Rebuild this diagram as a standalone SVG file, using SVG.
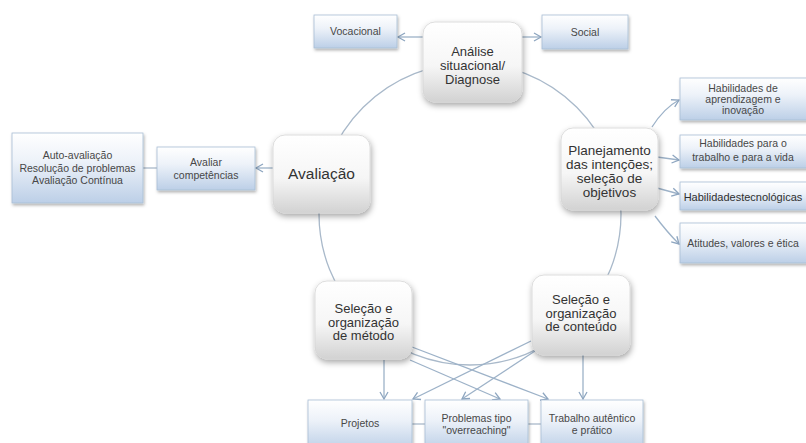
<svg xmlns="http://www.w3.org/2000/svg" width="806" height="443" viewBox="0 0 806 443">
<defs>
<linearGradient id="gNode" x1="0" y1="0" x2="0" y2="1">
<stop offset="0" stop-color="#ffffff"/>
<stop offset="0.55" stop-color="#f6f6f6"/>
<stop offset="1" stop-color="#d2d2d2"/>
</linearGradient>
<linearGradient id="gBox" x1="0" y1="0" x2="0" y2="1">
<stop offset="0" stop-color="#ffffff"/>
<stop offset="0.4" stop-color="#edf2f9"/>
<stop offset="1" stop-color="#bccfe7"/>
</linearGradient>
<filter id="shNode" x="-20%" y="-20%" width="150%" height="150%">
<feDropShadow dx="1" dy="3" stdDeviation="3" flood-color="#000" flood-opacity="0.35"/>
</filter>
<filter id="shBox" x="-20%" y="-20%" width="150%" height="150%">
<feDropShadow dx="1" dy="2" stdDeviation="1.5" flood-color="#000" flood-opacity="0.3"/>
</filter>
<marker id="arr" markerUnits="userSpaceOnUse" markerWidth="12" markerHeight="12" refX="8" refY="5" orient="auto">
<path d="M1,1 L8,5 L1,9" fill="none" stroke="#8ea6c0" stroke-width="1.3"/>
</marker>
<style>
.node{fill:url(#gNode);stroke:#d6d6d6;stroke-width:0.8;filter:url(#shNode)}
.box{fill:url(#gBox);stroke:#a9bdd5;stroke-width:0.8;filter:url(#shBox)}
.c{fill:none;stroke:#a9b9ca;stroke-width:1.3}
.a{fill:none;stroke:#9db2c8;stroke-width:1.3;marker-end:url(#arr)}
.tn{font-family:"Liberation Sans",Arial,sans-serif;font-size:13px;fill:#333;text-anchor:middle}
.tb{font-family:"Liberation Sans",Arial,sans-serif;font-size:10.5px;fill:#474747;text-anchor:middle}
</style>
</defs>
<rect width="806" height="443" fill="#ffffff"/>
<g id="connectors">
<circle class="c" cx="470" cy="214" r="151"/>
<line class="a" x1="423" y1="37" x2="398" y2="37"/>
<line class="a" x1="522" y1="37" x2="541" y2="37"/>
<line class="a" x1="273" y1="168" x2="256" y2="168"/>
<line class="c" x1="143" y1="168" x2="157" y2="168"/>
<path class="a" d="M652,127 Q664,108 679,100"/>
<line class="a" x1="657" y1="157" x2="679" y2="160"/>
<line class="a" x1="657" y1="188" x2="679" y2="194"/>
<path class="a" d="M655,216 Q667,232 679,244"/>
<line class="a" x1="384" y1="360" x2="384" y2="399"/>
<line class="a" x1="410" y1="360" x2="500" y2="399"/>
<line class="a" x1="412" y1="347" x2="548" y2="399"/>
<line class="a" x1="531" y1="341" x2="413" y2="399"/>
<line class="a" x1="535" y1="351" x2="462" y2="399"/>
<line class="a" x1="583" y1="355" x2="583" y2="399"/>
<line class="c" x1="412" y1="424" x2="425" y2="424"/>
<line class="c" x1="528" y1="424" x2="541" y2="424"/>
</g>
<g id="analise">
<rect class="node" x="423" y="22" width="99" height="80" rx="12"/>
<text class="tn"><tspan x="472.5" y="56">Análise</tspan><tspan x="472.5" y="70">situacional/</tspan><tspan x="472.5" y="84">Diagnose</tspan></text>
</g>
<g id="vocacional">
<rect class="box" x="314" y="15" width="83" height="33"/>
<text class="tb" x="355.5" y="35">Vocacional</text>
</g>
<g id="social">
<rect class="box" x="542" y="15" width="86" height="34"/>
<text class="tb" x="585" y="36">Social</text>
</g>
<g id="avaliacao">
<rect class="node" x="273" y="135" width="97" height="78" rx="12"/>
<text class="tn" x="321.5" y="179" style="font-size:15.5px">Avaliação</text>
</g>
<g id="avaliar">
<rect class="box" x="157" y="147" width="98" height="43"/>
<text class="tb"><tspan x="206" y="166">Avaliar</tspan><tspan x="206" y="179">competências</tspan></text>
</g>
<g id="autoavaliacao">
<rect class="box" x="12" y="133" width="131" height="70"/>
<text class="tb"><tspan x="77.5" y="159">Auto-avaliação</tspan><tspan x="77.5" y="172">Resolução de problemas</tspan><tspan x="77.5" y="184">Avaliação Contínua</tspan></text>
</g>
<g id="planejamento">
<rect class="node" x="561" y="128" width="97" height="82" rx="12"/>
<text class="tn" style="font-size:13.5px"><tspan x="609.5" y="155">Planejamento</tspan><tspan x="609.5" y="169">das intenções;</tspan><tspan x="609.5" y="183">seleção de</tspan><tspan x="609.5" y="197">objetivos</tspan></text>
</g>
<g id="hab-aprendizagem">
<rect class="box" x="680" y="78" width="128" height="42"/>
<text class="tb"><tspan x="743" y="92">Habilidades de</tspan><tspan x="743" y="103">aprendizagem e</tspan><tspan x="743" y="114">inovação</tspan></text>
</g>
<g id="hab-trabalho">
<rect class="box" x="680" y="135" width="128" height="33"/>
<text class="tb"><tspan x="743" y="147">Habilidades para o</tspan><tspan x="743" y="161">trabalho e para a vida</tspan></text>
</g>
<g id="hab-tecnologicas">
<rect class="box" x="680" y="182" width="128" height="28"/>
<text class="tb" x="743" y="201" style="font-size:11px;fill:#2f2f2f">Habilidadestecnológicas</text>
</g>
<g id="atitudes">
<rect class="box" x="680" y="223" width="128" height="40"/>
<text class="tb" x="743" y="247">Atitudes, valores e ética</text>
</g>
<g id="selecao-metodo">
<rect class="node" x="315" y="281" width="97" height="78" rx="12"/>
<text class="tn"><tspan x="363.5" y="313">Seleção e</tspan><tspan x="363.5" y="326.5">organização</tspan><tspan x="363.5" y="340">de método</tspan></text>
</g>
<g id="selecao-conteudo">
<rect class="node" x="532" y="275" width="98" height="80" rx="12"/>
<text class="tn"><tspan x="581" y="304">Seleção e</tspan><tspan x="581" y="317.5">organização</tspan><tspan x="581" y="331">de conteúdo</tspan></text>
</g>
<g id="projetos">
<rect class="box" x="308" y="400" width="104" height="50"/>
<text class="tb" x="360" y="427">Projetos</text>
</g>
<g id="problemas">
<rect class="box" x="425" y="400" width="103" height="50"/>
<text class="tb"><tspan x="476.5" y="422">Problemas tipo</tspan><tspan x="476.5" y="434">"overreaching"</tspan></text>
</g>
<g id="trabalho">
<rect class="box" x="541" y="400" width="102" height="50"/>
<text class="tb"><tspan x="592" y="422">Trabalho autêntico</tspan><tspan x="592" y="434">e prático</tspan></text>
</g>
</svg>
